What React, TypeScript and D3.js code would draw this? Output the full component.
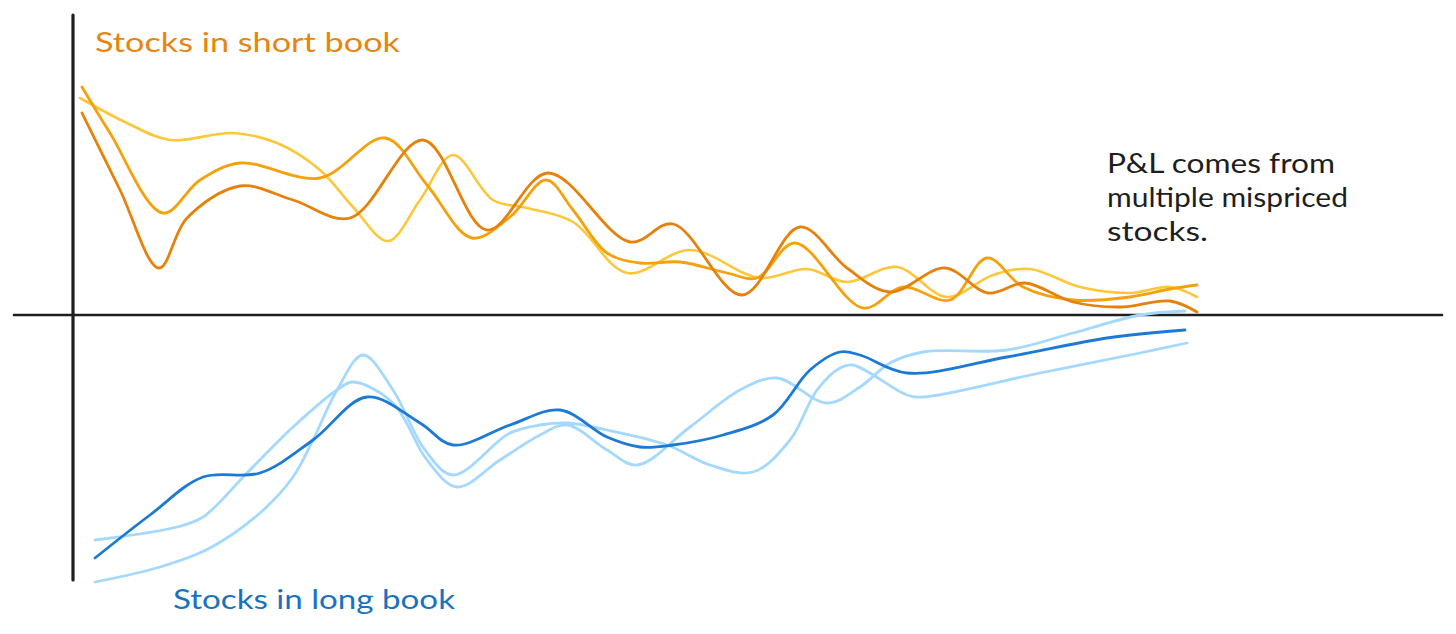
import React from "react";
import * as d3 from "d3";

// x: time index (0..112), y: position value (positive = short book, negative = long book)
const shortBookDark: [number, number][] = [
  [0.2, 101], [4, 62.5], [7.9, 23.5], [10.7, 48.5], [16, 64.5], [21.3, 57.5], [27, 48.5],
  [34.3, 87.5], [40.7, 42.5], [46.8, 71], [55, 36.5], [59.3, 45.5], [66.2, 10], [72, 44],
  [76.7, 23.5], [81, 11.5], [86.5, 23.5], [90.8, 11], [94.5, 16], [99.3, 6.5], [104, 4],
  [109, 7], [111.7, 1.5],
];
const shortBookMid: [number, number][] = [
  [0.2, 114], [3, 91], [8.3, 51], [12, 67.5], [16, 76], [24, 68.5], [30.5, 88.5], [34.7, 65],
  [39.2, 38.5], [43, 49], [46.6, 67.5], [49.3, 52.5], [52.7, 31], [56, 26], [60, 26.5],
  [64.7, 21], [67.7, 18.5], [71.5, 36], [78.3, 3.5], [82.3, 14], [87, 7.5], [90.7, 28.5],
  [94.3, 14], [99.3, 7.5], [105, 9], [109, 13], [111.7, 15],
];
const shortBookLight: [number, number][] = [
  [0, 108.5], [4.7, 96], [9, 87.5], [15.3, 91], [19.7, 86], [24, 72.5], [27.3, 54], [30.8, 37],
  [34, 57.5], [37.3, 80], [41.3, 57.5], [44.7, 53.5], [49.3, 46.5], [54.7, 21], [61, 32.5],
  [68, 18.5], [72.7, 23], [76.7, 16.5], [81.7, 24], [86.7, 9], [91.3, 20], [95, 23], [100, 14],
  [105, 11], [109, 14], [111.7, 9],
];
const longBookDark: [number, number][] = [
  [1.5, -121.5], [7, -100], [12.3, -81], [18, -79], [23.3, -62.5], [28.7, -41], [34, -54],
  [37.3, -65], [43, -55], [48, -47.5], [52.7, -61], [56, -66], [59.3, -65], [64.3, -60],
  [69.3, -50], [73, -27.5], [76, -18.5], [78, -20], [82.7, -29], [92.7, -21], [102.7, -11.5],
  [110.5, -7.5],
];
const longBookLightA: [number, number][] = [
  [1.5, -112.5], [9.7, -106], [12.3, -101], [16.7, -79], [21.3, -56], [25.7, -37.5],
  [27.3, -33.5], [31.3, -44], [34.7, -72.5], [37.7, -86], [42, -72.5], [46, -60], [48.7, -55],
  [52.7, -67.5], [55.7, -75], [61, -56], [66, -37.5], [69.7, -31.5], [74.7, -44], [78, -36],
  [81, -24], [84.3, -18.5], [92.7, -17.5], [99.3, -9], [106, 0], [110.5, 2],
];
const longBookLightB: [number, number][] = [
  [1.5, -133.5], [8, -126], [13, -116.5], [18, -99], [21.3, -81], [23.3, -62.5], [25.7, -37.5],
  [28.3, -20], [31.3, -37.5], [34.5, -67.5], [37.3, -80], [43, -59], [46, -55], [48.7, -54],
  [52.7, -57.5], [58.7, -65], [63, -75], [67.3, -78.5], [71, -62.5], [73.7, -37.5], [76, -26.5],
  [77.3, -25], [82.7, -40], [84.3, -41], [96, -29], [106, -19], [110.7, -14],
];

const series = [
  { name: "short-light", data: shortBookLight, color: "#fcc83a", width: 2.6 },
  { name: "short-mid", data: shortBookMid, color: "#f4a10c", width: 2.8 },
  { name: "short-dark", data: shortBookDark, color: "#e6820c", width: 2.8 },
  { name: "long-lightA", data: longBookLightA, color: "#a5d8ff", width: 2.8 },
  { name: "long-lightB", data: longBookLightB, color: "#a5d8ff", width: 2.8 },
  { name: "long-dark", data: longBookDark, color: "#1c7ad4", width: 2.8 },
];

const noteLines = ["P&L comes from", "multiple mispriced", "stocks."];
const noteWidths = [228, 241, 101];

const W = 1456;
const H = 634;

export default function App() {
  const x = d3.scaleLinear().domain([0, 112]).range([80, 1200]);
  const y = d3.scaleLinear().domain([-150, 150]).range([615, 15]);
  const line = d3
    .line<[number, number]>()
    .x((d) => x(d[0]))
    .y((d) => y(d[1]))
    .curve(d3.curveCatmullRom.alpha(0.5));

  const font = "Lato, 'Open Sans', sans-serif";

  return (
    <svg
      width={W}
      height={H}
      style={{ position: "absolute", left: 0, top: 0, background: "#ffffff" }}
    >
      {/* axes */}
      <line x1={x(-6.6)} x2={x(136.2)} y1={y(0)} y2={y(0)} stroke="#1e1e1e" strokeWidth={2.6} strokeLinecap="round" />
      <line x1={x(-0.7)} x2={x(-0.7)} y1={y(150)} y2={y(-132.5)} stroke="#1e1e1e" strokeWidth={3.2} strokeLinecap="round" />

      {series.map((s) => (
        <path
          key={s.name}
          d={line(s.data) || ""}
          fill="none"
          stroke={s.color}
          strokeWidth={s.width}
          strokeLinecap="round"
          strokeLinejoin="round"
        />
      ))}

      <text x={95} y={52} fill="#e8850e" fontFamily={font} fontSize={27} textLength={305} lengthAdjust="spacingAndGlyphs">
        Stocks in short book
      </text>
      <text x={173} y={609} fill="#1971c2" fontFamily={font} fontSize={27} textLength={282} lengthAdjust="spacingAndGlyphs">
        Stocks in long book
      </text>
      {noteLines.map((t, i) => (
        <text
          key={t}
          x={1107}
          y={173 + i * 34}
          fill="#1e1e1e"
          fontFamily={font}
          fontSize={27}
          textLength={noteWidths[i]}
          lengthAdjust="spacingAndGlyphs"
        >
          {t}
        </text>
      ))}
    </svg>
  );
}
